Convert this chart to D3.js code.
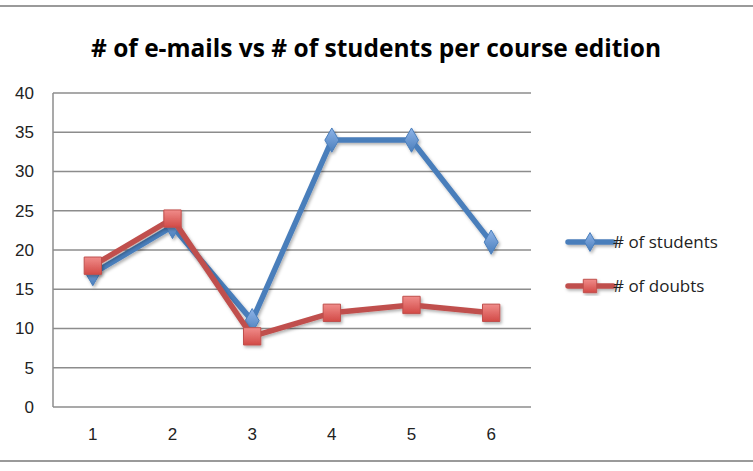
<!DOCTYPE html>
<html>
<head>
<meta charset="utf-8">
<script src="https://cdn.jsdelivr.net/npm/d3@7"></script>
<style>
  body { margin: 0; background: #fff; }
  svg { display: block; font-family: "Open Sans", "Noto Sans", sans-serif; }
</style>
</head>
<body>
<div id="chart"></div>
<script>
const editions = [1, 2, 3, 4, 5, 6];
const students = [17, 23, 11, 34, 34, 21];
const doubts = [18, 24, 9, 12, 13, 12];
const yTicks = [0, 5, 10, 15, 20, 25, 30, 35, 40];

const width = 753, height = 471;
const margin = { top: 93, left: 53, right: 222, bottom: 64 };
const svg = d3.select("#chart").append("svg").attr("width", width).attr("height", height);

const defs = svg.append("defs");
const shadow = defs.append("filter").attr("id", "shadow").attr("x", "-20%").attr("y", "-20%").attr("width", "140%").attr("height", "140%");
shadow.append("feDropShadow").attr("dx", 1.5).attr("dy", 2).attr("stdDeviation", 1.5).attr("flood-color", "#000").attr("flood-opacity", 0.3);
const redGrad = defs.append("linearGradient").attr("id", "redGrad").attr("x1", 0).attr("y1", 0).attr("x2", 0).attr("y2", 1);
redGrad.append("stop").attr("offset", "0%").attr("stop-color", "#f08c8a");
redGrad.append("stop").attr("offset", "100%").attr("stop-color", "#d24a46");
const blueGrad = defs.append("linearGradient").attr("id", "blueGrad").attr("x1", 0).attr("y1", 0).attr("x2", 0).attr("y2", 1);
blueGrad.append("stop").attr("offset", "0%").attr("stop-color", "#8fb4e8");
blueGrad.append("stop").attr("offset", "100%").attr("stop-color", "#4a7ebb");

// chart frame lines (top and bottom)
svg.append("line").attr("x1", 0).attr("x2", width).attr("y1", 6).attr("y2", 6).attr("stroke", "#9a9a9a").attr("stroke-width", 2);
svg.append("line").attr("x1", 0).attr("x2", width).attr("y1", 461).attr("y2", 461).attr("stroke", "#9a9a9a").attr("stroke-width", 2);

svg.append("text").attr("x", 376).attr("y", 57).attr("text-anchor", "middle")
  .style("font-size", "24.5px").style("font-weight", "bold").attr("fill", "#000")
  .text("# of e-mails vs # of students per course edition");

const x = d3.scaleBand().domain(editions).range([margin.left, width - margin.right]);
const y = d3.scaleLinear().domain([0, 40]).range([height - margin.bottom, margin.top]);

const grid = svg.append("g");
grid.selectAll("line").data(yTicks).join("line")
  .attr("x1", margin.left).attr("x2", width - margin.right)
  .attr("y1", (d) => y(d)).attr("y2", (d) => y(d))
  .attr("stroke", "#8c8c8c").attr("stroke-width", 1.5);

svg.append("line").attr("x1", margin.left).attr("x2", margin.left)
  .attr("y1", y(0)).attr("y2", y(40)).attr("stroke", "#8c8c8c").attr("stroke-width", 1.5);

const yAxis = svg.append("g").attr("transform", `translate(${margin.left},0)`)
  .call(d3.axisLeft(y).tickValues(yTicks).tickSize(0).tickPadding(19));
yAxis.select(".domain").remove();
yAxis.selectAll("text").attr("font-size", 17).style("font-size", "17px").attr("fill", "#222");

const xAxis = svg.append("g").attr("transform", `translate(0,${y(0)})`)
  .call(d3.axisBottom(x).tickSize(0).tickPadding(21));
xAxis.select(".domain").remove();
xAxis.selectAll("text").attr("font-size", 17).style("font-size", "17px").attr("fill", "#222");

const cx = (i) => x(editions[i]) + x.bandwidth() / 2;
const line = d3.line().x((d, i) => cx(i)).y((d) => y(d));

const series = [
  { name: "# of students", values: students, color: "#4a7ebb", fill: "url(#blueGrad)", symbol: d3.symbolDiamond, size: 170 },
  { name: "# of doubts", values: doubts, color: "#c0504d", fill: "url(#redGrad)", symbol: d3.symbolSquare, size: 300 }
];

series.forEach((s) => {
  const g = svg.append("g").attr("filter", "url(#shadow)");
  g.append("path").datum(s.values).attr("d", line).attr("fill", "none")
    .attr("stroke", s.color).attr("stroke-width", 5.5).attr("stroke-linejoin", "round");
  g.selectAll("path.m").data(s.values).join("path").attr("class", "m")
    .attr("transform", (d, i) => `translate(${cx(i)},${y(d)})`)
    .attr("d", d3.symbol().type(s.symbol).size(s.size))
    .attr("fill", s.fill).attr("stroke", s.color).attr("stroke-width", 1);
});

const legend = svg.append("g");
series.forEach((s, i) => {
  const ly = 242 + i * 44;
  const g = legend.append("g").attr("filter", "url(#shadow)");
  g.append("line").attr("x1", 568).attr("x2", 613).attr("y1", ly).attr("y2", ly)
    .attr("stroke", s.color).attr("stroke-width", 5.5).attr("stroke-linecap", "round");
  g.append("path").attr("transform", `translate(590,${ly})`)
    .attr("d", d3.symbol().type(s.symbol).size(s.size * 0.6))
    .attr("fill", s.fill).attr("stroke", s.color).attr("stroke-width", 1);
  legend.append("text").attr("x", 613).attr("y", ly + 6).style("font-size", "17px").attr("fill", "#222").text(s.name);
});
</script>
</body>
</html>
